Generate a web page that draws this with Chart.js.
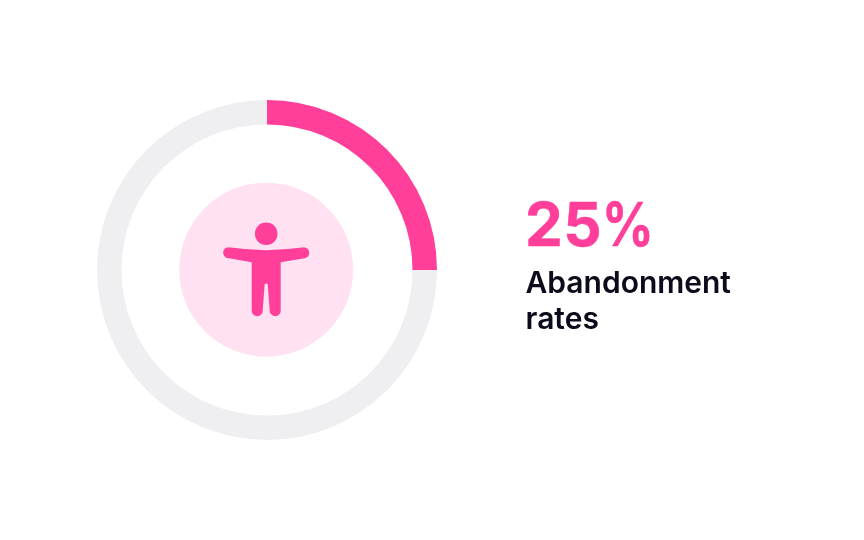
<!DOCTYPE html>
<html><head><meta charset="utf-8">
<script src="https://cdn.jsdelivr.net/npm/chart.js@4"></script>
<style>
html,body{margin:0;padding:0;background:#fff;width:864px;height:540px;overflow:hidden}
#wrap{position:absolute;left:0;top:0;width:864px;height:540px}
canvas{display:block}
.v{position:absolute;left:525px;top:188px;font:700 60px/72px Inter;color:#ff3f9a;letter-spacing:0.4px;-webkit-text-stroke:0.5px #ff3f9a;white-space:nowrap}
.v span{display:inline-block;transform:scaleX(.85);transform-origin:left center}
.l{position:absolute;left:525.5px;top:264px;font:600 30px/36px Inter;color:#0b0b1c;white-space:nowrap}
</style></head><body>
<div id="wrap"><canvas id="c" width="864" height="540"></canvas>
<div class="v" id="v"></div><div class="l" id="l"></div></div>
<script>
const categories=['Abandonment rates','Other'];
const seriesValues=[25,75];
const valueLabel='25%';
const labelLines=['Abandonment','rates'];
const colors=['#ff3f9a','#efeff1'];
document.getElementById('v').innerHTML=valueLabel.replace('%','<span>%</span>');
document.getElementById('l').innerHTML=labelLines.join('<br>');
const centerIcon={id:'centerIcon',afterDatasetsDraw(ch){
  const a=ch.getDatasetMeta(0).data[0],x=a.x-0.8,y=a.y-0.3,c=ch.ctx;
  c.save();
  c.fillStyle='#ffe1f1';c.beginPath();c.arc(x,y,87,0,Math.PI*2);c.fill();
  c.fillStyle='#ff3f9a';
  c.beginPath();c.arc(x,y-36,11.3,0,Math.PI*2);c.fill();
  c.beginPath();
  c.moveTo(x-38,y-22.5);
  c.quadraticCurveTo(x-20,y-20,x,y-19.5);
  c.quadraticCurveTo(x+20,y-20,x+38,y-22.5);
  c.arc(x+37.5,y-17,5.5,-Math.PI/2,Math.PI*0.45);
  c.lineTo(x+14.5,y-7.5);
  c.lineTo(x+14.5,y+41);
  c.arc(x+9,y+41,5.5,0,Math.PI);
  c.lineTo(x+1.5,y+14);
  c.lineTo(x-1.5,y+14);
  c.lineTo(x-3.5,y+41);
  c.arc(x-9,y+41,5.5,0,Math.PI);
  c.lineTo(x-14.5,y-7.5);
  c.lineTo(x-37,y-11.5);
  c.arc(x-37.5,y-17,5.5,Math.PI*0.55,-Math.PI/2);
  c.closePath();c.fill();
  c.restore();
}};
new Chart(document.getElementById('c'),{type:'doughnut',
 data:{labels:categories,datasets:[{data:seriesValues,backgroundColor:colors,borderWidth:0,hoverOffset:0}]},
 options:{responsive:false,animation:false,cutout:145.5,radius:170,rotation:0,circumference:360,
  layout:{padding:{left:97,top:100,right:427,bottom:100}},
  plugins:{legend:{display:false},tooltip:{enabled:false}}},
 plugins:[centerIcon]});
</script></body></html>
